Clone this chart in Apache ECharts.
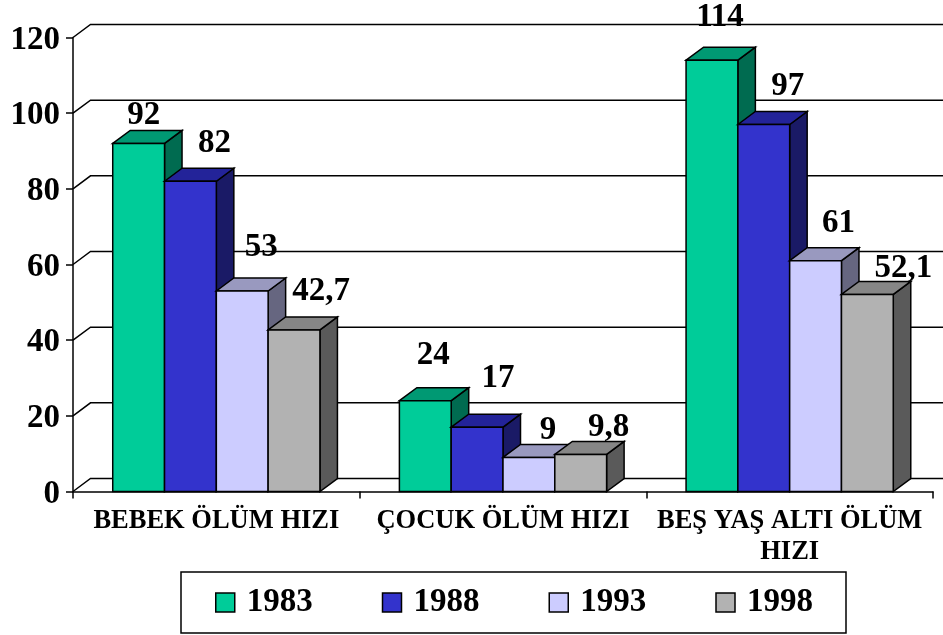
<!DOCTYPE html>
<html>
<head>
<meta charset="utf-8">
<style>html,body{margin:0;padding:0;background:#fff}#c{width:943px;height:635px}</style>
<script src="https://cdn.jsdelivr.net/npm/echarts@6/dist/echarts.min.js"></script>
</head>
<body>
<div id="c"></div>
<script>
const categories = ['BEBEK ÖLÜM HIZI', 'ÇOCUK ÖLÜM HIZI', 'BEŞ YAŞ ALTI ÖLÜM\nHIZI'];
const years = ['1983', '1988', '1993', '1998'];
const values1983 = [92, 24, 114];
const values1988 = [82, 17, 97];
const values1993 = [53, 9, 61];
const values1998 = [42.7, 9.8, 52.1];
const wallTicks = [0, 20, 40, 60, 80, 100, 120];

// Visual style, kept apart from the data
const faceColors = ['#00CC99', '#3333CC', '#CCCCFF', '#B2B2B2'];
const topColors = ['#009973', '#232399', '#9999BF', '#868686'];
const sideColors = ['#006B50', '#1A1A66', '#666680', '#5A5A5A'];
const labelNudgeX = [[5, 8, 8], [24, 21, 24], [19, 19, 23], [27, 28, 36]];
const labelNudgeY = [[28, 45, 43], [38, 49, 38], [44, 27, 37], [38, 27, 26]];
const DX = 17.5, DY = 13, BAR_RATIO = 0.1807;
const INK = '#000';
const FONT = '"Liberation Serif","Times New Roman",serif';

const allValues = [values1983, values1988, values1993, values1998];

function barSeries(name, s) {
  return {
    type: 'custom',
    name: name,
    z: 3 + s,
    itemStyle: { color: faceColors[s], borderColor: INK, borderWidth: 1.5 },
    encode: { x: 0, y: 1 },
    data: allValues[s].map((v, i) => [i, v]),
    renderItem: function (params, api) {
      const c = api.value(0), v = api.value(1);
      const top = api.coord([c, v]);
      const base = api.coord([c, 0]);
      const w = api.size([1, 0])[0] * BAR_RATIO;
      const x0 = top[0] + (s - 2) * w, x1 = x0 + w;
      const yt = top[1], yb = base[1];
      const line = { stroke: INK, lineWidth: 1.5, lineJoin: 'miter' };
      const poly = (pts, fill) => ({
        type: 'polygon', shape: { points: pts },
        style: Object.assign({ fill: fill }, line)
      });
      return {
        type: 'group',
        children: [
          poly([[x1, yt], [x1 + DX, yt - DY], [x1 + DX, yb - DY], [x1, yb]], sideColors[s]),
          poly([[x0, yt], [x0 + DX, yt - DY], [x1 + DX, yt - DY], [x1, yt]], topColors[s]),
          poly([[x0, yt], [x1, yt], [x1, yb], [x0, yb]], faceColors[s]),
          {
            type: 'text',
            style: {
              text: String(v).replace('.', ','),
              x: (x0 + x1) / 2 + labelNudgeX[s][c],
              y: yt - labelNudgeY[s][c],
              fill: INK,
              font: 'bold 33px ' + FONT,
              align: 'center',
              verticalAlign: 'middle'
            }
          }
        ]
      };
    }
  };
}

const wallSeries = {
  type: 'custom',
  name: 'wall',
  z: 1,
  silent: true,
  encode: { x: 0, y: 1 },
  data: wallTicks.map(t => [0, t]),
  renderItem: function (params, api) {
    const y = api.coord([0, api.value(1)])[1];
    const cs = params.coordSys;
    return {
      type: 'polyline',
      shape: { points: [[cs.x, y], [cs.x + DX, y - DY], [cs.x + cs.width + DX, y - DY]] },
      style: { stroke: INK, lineWidth: 1.5, fill: 'none' }
    };
  }
};

const chart = echarts.init(document.getElementById('c'), null, { renderer: 'canvas' });
chart.setOption({
  backgroundColor: '#fff',
  animation: false,
  grid: { left: 73, top: 37.5, width: 860, height: 454, containLabel: false },
  legend: {
    data: years,
    left: 181,
    top: 572,
    width: 720,
    orient: 'horizontal',
    icon: 'rect',
    itemWidth: 19,
    itemHeight: 19,
    itemGap: 69,
    padding: [14, 33, 14, 34],
    backgroundColor: '#fff',
    borderColor: INK,
    borderWidth: 1.5,
    selectedMode: false,
    itemStyle: { borderColor: INK, borderWidth: 1.5 },
    textStyle: {
      fontFamily: FONT, fontWeight: 'bold', fontSize: 33, color: INK,
      padding: [0, 0, 0, 7], lineHeight: 33
    }
  },
  xAxis: {
    type: 'category',
    data: categories,
    axisLine: { show: true, lineStyle: { color: INK, width: 1.5 } },
    axisTick: { show: true, alignWithLabel: false, length: 7, lineStyle: { color: INK, width: 1.5 } },
    axisLabel: {
      interval: 0, margin: 14, color: INK,
      fontFamily: FONT, fontWeight: 'bold', fontSize: 26.5, lineHeight: 31
    }
  },
  yAxis: {
    type: 'value',
    min: 0, max: 120, interval: 20,
    splitLine: { show: false },
    axisLine: { show: true, lineStyle: { color: INK, width: 1.5 } },
    axisTick: { show: true, length: 7, lineStyle: { color: INK, width: 1.5 } },
    axisLabel: {
      margin: 13, color: INK,
      formatter: '{t|{value}}',
      rich: {
        t: {
          padding: [5, 0, 0, 0], color: INK,
          fontFamily: FONT, fontWeight: 'bold', fontSize: 33
        }
      }
    }
  },
  series: [wallSeries].concat(years.map((y, s) => barSeries(y, s)))
});
</script>
</body>
</html>
